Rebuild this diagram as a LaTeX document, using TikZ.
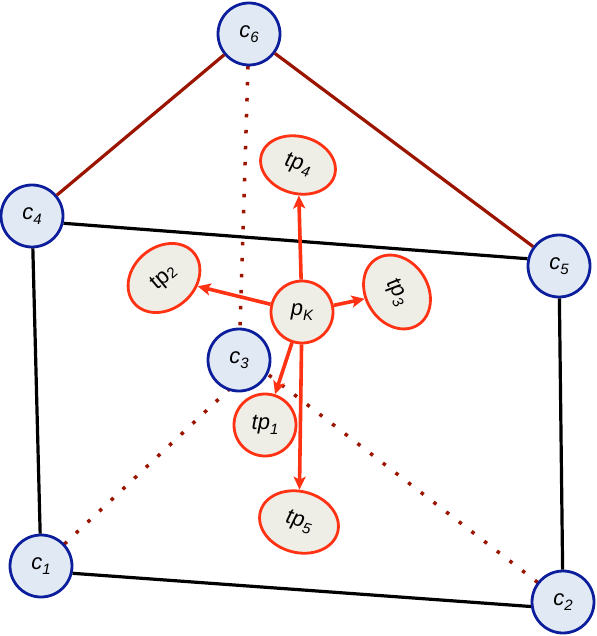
\documentclass[tikz,border=0pt]{standalone}
\usepackage{fontspec}
\setmainfont{Liberation Sans}
\usetikzlibrary{shapes.geometric,arrows.meta}
\definecolor{cfill}{RGB}{225,233,244}
\definecolor{cdraw}{RGB}{12,30,155}
\definecolor{tfill}{RGB}{239,238,230}
\definecolor{tdraw}{RGB}{255,50,20}
\definecolor{dred}{RGB}{155,20,0}
\newcommand\lab[2]{\textit{#1\raisebox{-0.45ex}{\fontsize{15}{15}\selectfont #2}}}
\newcommand\labup[2]{#1\raisebox{-0.15ex}{\fontsize{15}{15}\selectfont #2}}
\tikzset{
  cnode/.style={circle, minimum size=62pt, inner sep=0pt, draw=cdraw, fill=cfill, line width=2.8pt, font=\fontsize{22}{22}\selectfont},
  tnode/.style={ellipse, inner sep=0pt, draw=tdraw, fill=tfill, line width=2.8pt, font=\fontsize{22}{22}\selectfont},
  blk/.style={line width=3.2pt, black},
  redsolid/.style={line width=3.2pt, dred},
  reddot/.style={line width=3.5pt, dred, dash pattern=on 3.5pt off 12.5pt},
  rarrow/.style={line width=3.6pt, tdraw, -{Stealth[length=13pt,width=12pt,inset=3pt]}}
}
\begin{document}
\begin{tikzpicture}[x=1pt,y=-1pt]
\useasboundingbox (0,0) rectangle (596,636);
% node positions
\coordinate (P6) at (249,34);
\coordinate (P4) at (32,216);
\coordinate (P5) at (559,266);
\coordinate (P3) at (239,360);
\coordinate (P1) at (41,566);
\coordinate (P2) at (563,602);
% hidden / dotted edges
\draw[reddot] (P6) -- (P3);
\draw[reddot] (P1) -- ([yshift=-20pt]P3);
\draw[reddot] (P2) -- ([yshift=8pt]P3);
% nodes c
\node[cnode] (c6) at (P6) {\lab{c}{6}};
\node[cnode] (c4) at (P4) {\lab{c}{4}};
\node[cnode] (c5) at (P5) {\lab{c}{5}};
\node[cnode] (c3) at (P3) {\lab{c}{3}};
\node[cnode] (c1) at (P1) {\lab{c}{1}};
\node[cnode] (c2) at (P2) {\lab{c}{2}};
% solid edges
\draw[redsolid] (c6) -- (c4);
\draw[redsolid] (c6) -- (c5);
\draw[blk] (c4.-13) -- (c5.167);
\draw[blk] (c4) -- (c1);
\draw[blk] (c5) -- (c2);
\draw[blk] (c1.-13) -- (c2.188);
% red nodes
\node[tnode, minimum width=62pt, minimum height=62pt] (pK) at (302,312) {\lab{p}{K}};
\node[tnode, minimum width=76pt, minimum height=57pt, rotate=-15] (tp4) at (298,165) {\lab{tp}{4}};
\node[tnode, minimum width=78pt, minimum height=62pt, rotate=40] (tp2) at (164,278) {\labup{tp}{2}};
\node[tnode, minimum width=78pt, minimum height=62pt, rotate=-58] (tp3) at (397,292) {\lab{tp}{3}};
\node[tnode, minimum width=62pt, minimum height=62pt] (tp1) at (265,425) {\lab{tp}{1}};
\node[tnode, minimum width=80pt, minimum height=61pt, rotate=-15] (tp5) at (299,522) {\lab{tp}{5}};
% arrows
\draw[rarrow] (pK) -- (tp4);
\draw[rarrow] (pK) -- (tp2);
\draw[rarrow] (pK) -- (tp3);
\draw[rarrow] (pK) -- (tp1);
\draw[rarrow] (pK) -- (tp5);
\end{tikzpicture}
\end{document}
